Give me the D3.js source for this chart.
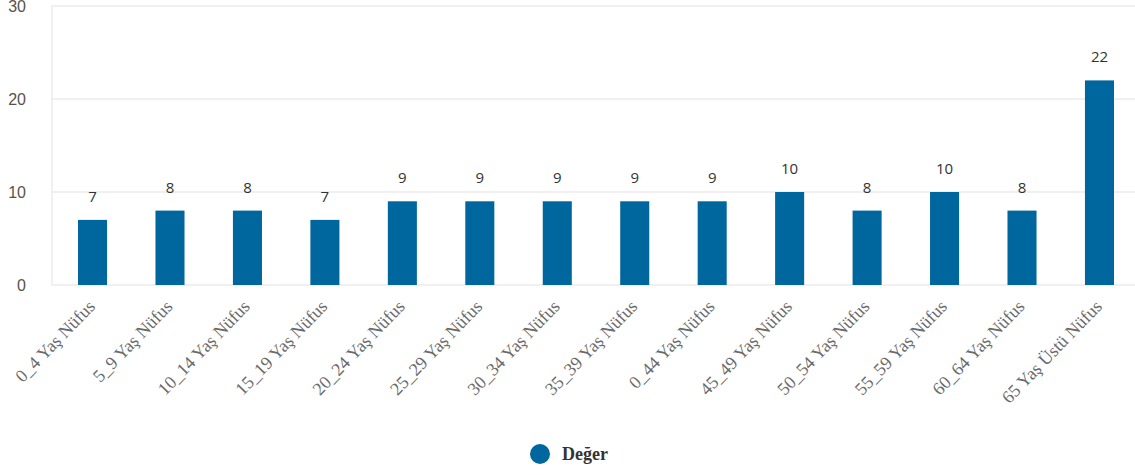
<!DOCTYPE html>
<html>
<head>
<meta charset="utf-8">
<script src="https://cdn.jsdelivr.net/npm/d3@7"></script>
<style>
  body { margin: 0; background: #fff; }
</style>
</head>
<body>
<div class="canvas"></div>
<script>
// data
const categories = [
  '0_4 Yaş Nüfus', '5_9 Yaş Nüfus', '10_14 Yaş Nüfus', '15_19 Yaş Nüfus',
  '20_24 Yaş Nüfus', '25_29 Yaş Nüfus', '30_34 Yaş Nüfus', '35_39 Yaş Nüfus',
  '0_44 Yaş Nüfus', '45_49 Yaş Nüfus', '50_54 Yaş Nüfus', '55_59 Yaş Nüfus',
  '60_64 Yaş Nüfus', '65 Yaş Üstü Nüfus'
];
const values = [7, 8, 8, 7, 9, 9, 9, 9, 9, 10, 8, 10, 8, 22];
const yTicks = [0, 10, 20, 30];
const seriesName = 'Değer';

const margin = { top: 6, right: 0, bottom: 190, left: 52 };
const width = 1135;
const height = 475;
const graphWidth = width - margin.left - margin.right;
const graphHeight = height - margin.top - margin.bottom;

const svg = d3
  .select('.canvas')
  .append('svg')
  .attr('width', width)
  .attr('height', height);

const graph = svg
  .append('g')
  .attr('transform', `translate(${margin.left}, ${margin.top})`);

// scales
const x = d3.scaleBand().domain(categories).range([2, 1086]).paddingInner(0.625).paddingOuter(0.31);
const y = d3.scaleLinear().domain([0, 30]).range([graphHeight, 0]);

// grid lines
graph
  .append('g')
  .selectAll('line')
  .data(yTicks)
  .enter()
  .append('line')
  .attr('x1', 0)
  .attr('x2', graphWidth)
  .attr('y1', d => y(d))
  .attr('y2', d => y(d))
  .attr('stroke', '#ebebeb')
  .attr('stroke-width', 1.5);

graph
  .append('line')
  .attr('x1', 0)
  .attr('x2', 0)
  .attr('y1', 0)
  .attr('y2', graphHeight)
  .attr('stroke', '#ebebeb')
  .attr('stroke-width', 1.5);

// y axis
const yAxis = d3.axisLeft(y).tickValues(yTicks).tickSize(0).tickPadding(26);
const yAxisGroup = graph.append('g').call(yAxis);
yAxisGroup.select('.domain').remove();
yAxisGroup
  .selectAll('text')
  .attr('fill', '#5a5248')
  .style('font-family', '"Liberation Sans", sans-serif')
  .style('font-size', '16px');

// x axis
const xAxis = d3.axisBottom(x).tickSize(0).tickPadding(0);
const xAxisGroup = graph
  .append('g')
  .attr('transform', `translate(0, ${graphHeight})`)
  .call(xAxis);
xAxisGroup.select('.domain').remove();
xAxisGroup
  .selectAll('text')
  .attr('fill', '#6a6a6a')
  .style('font-family', '"Liberation Serif", serif')
  .style('font-size', '18px')
  .attr('text-anchor', 'end')
  .attr('x', 0)
  .attr('y', 0)
  .attr('dy', '0.35em')
  .attr('transform', 'translate(-1, 18) rotate(-46)');

// bars
graph
  .selectAll('rect.bar')
  .data(values)
  .enter()
  .append('rect')
  .attr('class', 'bar')
  .attr('x', (d, i) => x(categories[i]))
  .attr('y', d => y(d))
  .attr('width', x.bandwidth())
  .attr('height', d => graphHeight - y(d))
  .attr('fill', '#00669e');

// value labels
graph
  .selectAll('text.value')
  .data(values)
  .enter()
  .append('text')
  .attr('class', 'value')
  .attr('x', (d, i) => x(categories[i]) + x.bandwidth() / 2)
  .attr('y', d => y(d) - 18)
  .attr('text-anchor', 'middle')
  .attr('fill', '#333')
  .style('font-family', '"Open Sans", sans-serif')
  .style('font-size', '15px')
  .text(d => d);

// legend
const legend = svg.append('g').attr('transform', 'translate(540, 454)');
legend.append('circle').attr('r', 10).attr('fill', '#00669e');
legend
  .append('text')
  .attr('x', 22)
  .attr('dy', '0.35em')
  .attr('fill', '#333')
  .style('font-family', '"Liberation Serif", serif')
  .style('font-weight', 'bold')
  .style('font-size', '18px')
  .text(seriesName);
</script>
</body>
</html>
